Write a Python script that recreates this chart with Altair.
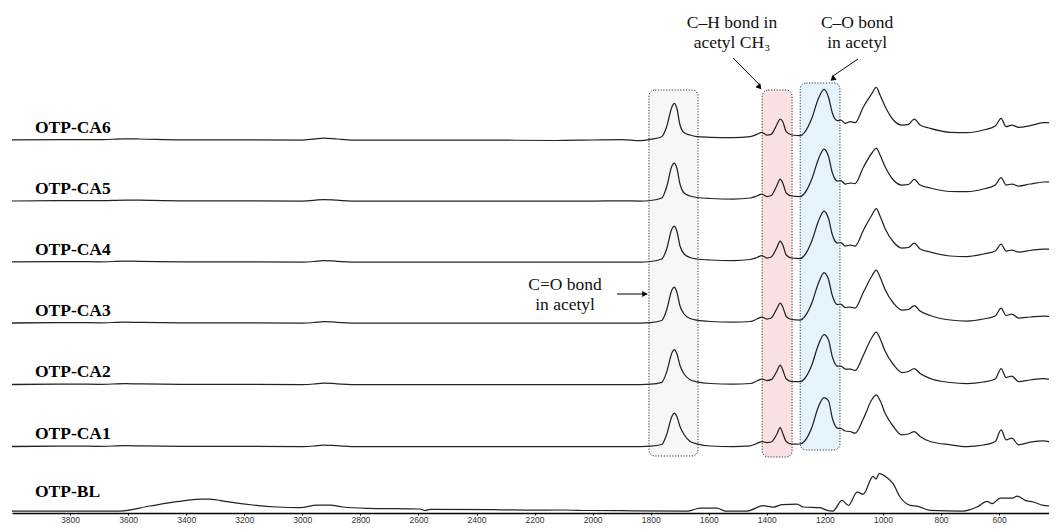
import altair as alt
import pandas as pd

# ---------------- data ----------------
# shared wavenumber grid (cm-1) for the acetylated samples
WN_CA = [4000, 3780, 3700, 3610, 3560, 3420, 3000, 2960, 2928, 2880,
         2830, 2400, 2130, 2000, 1900, 1836, 1800, 1762, 1745, 1727,
         1719, 1710, 1699, 1685, 1664, 1641, 1595, 1516, 1457, 1434,
         1417, 1400, 1385, 1366, 1354, 1345, 1333, 1314, 1285, 1268,
         1245, 1222, 1203, 1188, 1174, 1157, 1145, 1130, 1113, 1096,
         1067, 1038, 1023, 1010, 992, 964, 935, 912, 892, 872,
         837, 768, 711, 654, 613, 593, 576, 556, 533, 493,
         447, 400]

CA6 = [0, 0.5, 0.3, 1.2, 1.0, 0.2, 0, 0.8, 2.0, 1.0,
       0, 0, -0.5, 0, 0.3, -0.7, 0.7, 3.3, 13.3, 33,
       36.7, 31.7, 15, 7.3, 5, 3.3, 2.7, 2.3, 3.3, 5.7,
       7.7, 5, 5.7, 15, 21, 18.3, 8.3, 5, 4.3, 8.3,
       21.7, 41.7, 50.7, 43.3, 26.7, 19.3, 20, 16.7, 18.3, 17.3,
       33.3, 46.7, 52.7, 45, 33.3, 20, 15, 15.7, 21, 15,
       11.7, 7.7, 7.3, 10, 14, 21.7, 13.3, 15, 12.7, 14.3,
       17.3, 17.3]

CA5 = [0, 0.3, 0.3, 1, 0.8, 0.2, 0, 0.6, 1.5, 0.8,
       0, 0, 0, 0, 0.2, 0, 0.5, 3, 14, 35,
       38, 33, 17, 8, 5, 3.5, 2.5, 2, 3, 5,
       7, 4.5, 5.5, 15, 22, 18, 8, 5, 4.5, 8.5,
       22, 42, 52, 45, 28, 20, 20.5, 17, 18, 17.5,
       34, 48, 53, 46, 34, 21, 16, 16.5, 21.7, 16,
       13, 9.5, 9.3, 12, 16, 23.3, 16, 17, 15, 17,
       19, 19.3]

CA4 = [0, 0.3, 0.2, 0.8, 0.7, 0.2, 0, 0.5, 1.5, 0.7,
       0, 0, 0, 0, 0, 0, 0.5, 3, 13, 33,
       36, 31, 16, 8, 4.5, 3, 2, 1.5, 2.5, 4.5,
       6.5, 4, 5, 14, 21, 17, 7, 4, 3.5, 7.5,
       21, 41, 51, 44, 27, 19, 19.5, 16, 17, 16,
       32, 47, 53.5, 46, 33, 20, 14, 14.5, 19, 13,
       10, 6, 5.5, 8, 11, 18, 11, 12, 10, 11.5,
       13, 12]

CA3 = [0, 0.3, 0.2, 0.8, 0.6, 0.2, 0, 0.5, 1.5, 0.7,
       0, 0, 0, 0, 0, 0, 0.4, 2.5, 13, 33,
       36, 31, 17, 9, 4.5, 2.8, 1.5, 1, 1.5, 4,
       6, 4, 5, 14, 20, 16, 6.5, 3.5, 3, 7,
       20, 40, 50.5, 44, 27, 18.5, 19, 15.5, 16, 15,
       31, 47, 53, 46, 33, 20, 13, 13.5, 17.5, 12,
       7.5, 3, 2, 4, 7, 15, 7.5, 9, 5, 6,
       7, 5]

CA2 = [0, 0.3, 0.2, 0.8, 0.6, 0.2, 0, 0.5, 1.5, 0.7,
       0, 0, 0, 0, 0, 0, 0.3, 2.2, 12.5, 31.5,
       35, 31, 19, 10.5, 4.8, 2.7, 1, 0.5, 1, 3.5,
       5.5, 4, 4.8, 13, 19.5, 14.5, 5.5, 3, 2.8, 6.5,
       19.5, 40, 50, 45, 27.5, 18.3, 18.5, 15.5, 15.5, 14,
       29.5, 47, 52.5, 46, 33, 20, 12, 13, 16, 11,
       6, 2, 1, 2.5, 5.5, 16, 7, 8.5, 3, 4.5,
       6, 3]

CA1 = [0, 0.3, 0.2, 0.8, 0.6, 0.2, 0, 0.5, 1.5, 0.8,
       0, 0, 0, 0, 0, 0, 0.3, 2, 12, 30,
       33.3, 30, 20, 12, 5, 2.7, 0.5, 0, 0.7, 3,
       5, 4, 4.5, 12, 19, 13, 5, 2.3, 2.5, 6,
       19, 40, 49, 46, 28, 18.3, 18, 15.5, 15, 13.3,
       28, 47, 51.7, 46, 33, 20, 11.7, 12.5, 15, 10,
       5, 1.7, 0, 1.5, 5, 16.7, 6.7, 8.3, 1.7, 4.3,
       5.7, 1.7]

# untreated (blank) sample
WN_BL = [4000, 3628, 3525, 3432, 3352, 3318, 3259, 3170, 3087, 3008,
         2949, 2904, 2860, 2777, 2594, 2577, 2560, 2319, 2200, 2100,
         2019, 1900, 1671, 1630, 1571, 1544, 1468, 1413, 1378, 1347,
         1296, 1275, 1216, 1192, 1172, 1141, 1119, 1089, 1068, 1034,
         1024, 1013, 986, 965, 941, 906, 879, 838, 724, 676,
         641, 624, 596, 552, 538, 510, 483, 448, 414, 400]
BL = [0, 0, 5, 9.3, 12, 12, 9.3, 6, 4, 3.3,
      6, 6, 4, 2.7, 2, 0.5, 1.7, 1.2, 0.8, 1,
      0.5, 0.3, 0, 3.0, 3.0, 0, 0, 5.3, 4, 6.3,
      7, 4, 3.3, 0.7, 0, 10.7, 5.7, 19, 16.7, 34.7,
      32, 37.3, 33.3, 27.3, 14, 5.7, 4.7, 0.7, 0, 4,
      9.7, 7.3, 13, 13, 15, 10.7, 9, 5.7, 4.7, 3.5]

SERIES = ["OTP-CA6", "OTP-CA5", "OTP-CA4", "OTP-CA3", "OTP-CA2", "OTP-CA1", "OTP-BL"]
VALUES = [CA6, CA5, CA4, CA3, CA2, CA1, BL]
GRIDS = [WN_CA] * 6 + [WN_BL]
# vertical stacking offset of each spectrum (arbitrary absorbance units)
OFFSETS = [375, 314, 253, 192, 130.5, 68.5, 4]

TICKS = list(range(600, 3801, 200))

# ---------------- tables ----------------
rows = []
for name, wn, vals, off in zip(SERIES, GRIDS, VALUES, OFFSETS):
    assert len(wn) == len(vals), name
    for i, (w, v) in enumerate(zip(wn, vals)):
        rows.append({"series": name, "wn": w, "abs": v + off, "i": i})
spec = pd.DataFrame(rows)

LABEL_WN = 3921
LABEL_DY = [12, 12, 12, 12, 13, 13, 19]
labels = pd.DataFrame({
    "series": SERIES,
    "wn": [LABEL_WN] * len(SERIES),
    "abs": [o + d for o, d in zip(OFFSETS, LABEL_DY)],
})

boxes = pd.DataFrame({
    "wn1": [1806, 1416, 1285],
    "wn2": [1637, 1313, 1148],
    "a1": [59, 58, 65],
    "a2": [425, 425, 432],
    "fill": ["#f7f7f7", "#f9e1e3", "#e5f4fc"],
})

arrows = pd.DataFrame({
    "wn1": [1516, 1086, 1916],
    "a1": [457, 456, 221],
    "wn2": [1421, 1177, 1812],
    "a2": [429, 438, 221],
})
heads = pd.DataFrame({
    "wn": [1427, 1171, 1823],
    "abs": [428.5, 436.5, 221],
    "ang": [138, 232, 90],
})

notes = pd.DataFrame({
    "text": ["C\u2013H bond in", "acetyl CH\u2083", "C\u2013O bond", "in acetyl", "C=O bond", "in acetyl"],
    "wn": [1520, 1520, 1089, 1089, 2095, 2095],
    "abs": [492, 472, 492, 472, 230, 210],
})

# ---------------- chart ----------------
xs = alt.Scale(domain=[4000, 428], nice=False, zero=False)
ys = alt.Scale(domain=[2, 507], nice=False, zero=False)

x_axis = alt.Axis(values=TICKS, title=None, grid=False, labelFontSize=8.5, labelFont="Liberation Sans",
                  labelColor="#333333", tickColor="#000000", tickSize=2, tickWidth=1,
                  domainColor="#000000", domainWidth=1.5, labelPadding=0,
                  labelFlush=False, labelOverlap=False, format="d")

box_layer = alt.Chart(boxes).mark_rect(cornerRadius=6, stroke="#333333", strokeWidth=1,
                                        strokeDash=[1.2, 1.6]).encode(
    x=alt.X("wn1:Q", scale=xs, axis=x_axis),
    x2="wn2:Q",
    y=alt.Y("a1:Q", scale=ys, axis=None),
    y2="a2:Q",
    fill=alt.Fill("fill:N", scale=None),
)

line_layer = alt.Chart(spec).mark_line(color="#222222", strokeWidth=1.25, clip=True,
                                       interpolate="monotone").encode(
    x=alt.X("wn:Q", scale=xs),
    y=alt.Y("abs:Q", scale=ys),
    detail="series:N",
    order="i:Q",
)

label_layer = alt.Chart(labels).mark_text(align="left", baseline="middle", font="Liberation Serif",
                                           fontSize=17.5, fontWeight="bold", color="#000000").encode(
    x=alt.X("wn:Q", scale=xs),
    y=alt.Y("abs:Q", scale=ys),
    text="series:N",
)

arrow_layer = alt.Chart(arrows).mark_rule(color="#000000", strokeWidth=1).encode(
    x=alt.X("wn1:Q", scale=xs), x2="wn2:Q",
    y=alt.Y("a1:Q", scale=ys), y2="a2:Q",
)

head_layer = alt.Chart(heads).mark_point(shape="triangle", filled=True, size=38, color="#000000",
                                         opacity=1).encode(
    x=alt.X("wn:Q", scale=xs),
    y=alt.Y("abs:Q", scale=ys),
    angle=alt.Angle("ang:Q", scale=None),
)

note_layer = alt.Chart(notes).mark_text(align="center", baseline="middle", font="Liberation Serif",
                                         fontSize=17.5, color="#111111").encode(
    x=alt.X("wn:Q", scale=xs),
    y=alt.Y("abs:Q", scale=ys),
    text="text:N",
)

chart = alt.layer(box_layer, line_layer, label_layer, arrow_layer, head_layer, note_layer).properties(
    width=1037, height=505,
    padding={"left": 4, "top": 0, "right": 0, "bottom": 11},
    autosize=alt.AutoSizeParams(type="none"),
    background="white",
).configure_view(stroke=None)

chart.save("out.html", embed_options={"renderer": "svg", "actions": False})
